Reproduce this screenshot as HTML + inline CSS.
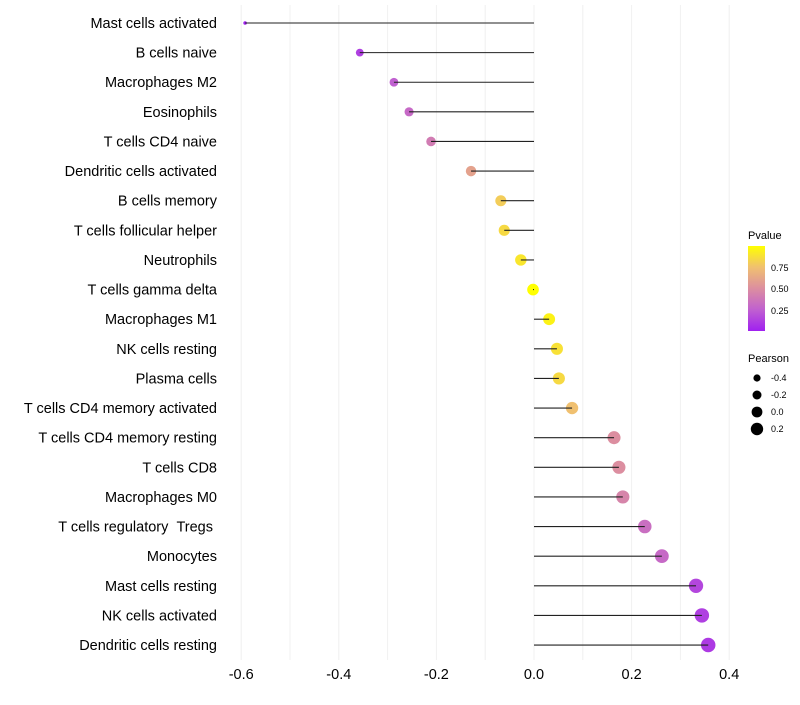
<!DOCTYPE html>
<html><head><style>
body{margin:0;background:#fff;font-family:"Liberation Sans",sans-serif}
</style></head><body>
<svg id="chart" width="800" height="700" xmlns="http://www.w3.org/2000/svg" font-family="Liberation Sans, sans-serif">
<g id="grid"></g>
<g id="marks"></g>
<g id="ylab"></g>
<g id="xlab"></g>
<g>
<defs><linearGradient id="pg" x1="0" y1="1" x2="0" y2="0">
<stop offset="0" stop-color="#a020f0"/><stop offset="0.25" stop-color="#c060d0"/><stop offset="0.5" stop-color="#dc8ea0"/><stop offset="0.75" stop-color="#f0c070"/><stop offset="1" stop-color="#ffff00"/></linearGradient></defs>
<text x="748" y="239" font-size="11">Pvalue</text>
<rect x="748" y="246" width="17" height="85" fill="url(#pg)"/>
<text x="771" y="271" font-size="9">0.75</text>
<text x="771" y="292" font-size="9">0.50</text>
<text x="771" y="314" font-size="9">0.25</text>
<text x="748" y="362" font-size="11">Pearson</text>
<circle cx="757" cy="378" r="3.6"/>
<circle cx="757" cy="395" r="4.5"/>
<circle cx="757" cy="412" r="5.4"/>
<circle cx="757" cy="429" r="6.2"/>
<text x="771" y="381" font-size="9">-0.4</text>
<text x="771" y="398" font-size="9">-0.2</text>
<text x="771" y="415" font-size="9">0.0</text>
<text x="771" y="432" font-size="9">0.2</text>
</g>
</svg>
<script>
const categories=["Mast cells activated","B cells naive","Macrophages M2","Eosinophils","T cells CD4 naive","Dendritic cells activated","B cells memory","T cells follicular helper","Neutrophils","T cells gamma delta","Macrophages M1","NK cells resting","Plasma cells","T cells CD4 memory activated","T cells CD4 memory resting","T cells CD8","Macrophages M0","T cells regulatory\u00a0\u00a0Tregs\u00a0","Monocytes","Mast cells resting","NK cells activated","Dendritic cells resting"];
const pearson=[-0.592,-0.357,-0.287,-0.256,-0.211,-0.129,-0.068,-0.061,-0.027,-0.002,0.031,0.047,0.051,0.078,0.164,0.174,0.182,0.227,0.262,0.332,0.344,0.357];
const pvalues=[0.0,0.12,0.25,0.3,0.4,0.6,0.8,0.85,0.9,1.0,0.95,0.88,0.85,0.75,0.5,0.5,0.45,0.33,0.3,0.15,0.12,0.1];
const xTicks=[-0.6,-0.4,-0.2,0.0,0.2,0.4];
const NS="http://www.w3.org/2000/svg";
const x=v=>534+v*488;
const y=i=>23+i*29.62;
const rad=v=>Math.sqrt(Math.max(1,34+52*v));
const stops=[[0,[160,32,240]],[0.25,[192,96,208]],[0.5,[220,142,160]],[0.75,[240,192,112]],[1,[255,255,0]]];
function col(p){for(let k=1;k<stops.length;k++){if(p<=stops[k][0]){const a=stops[k-1],b=stops[k],t=(p-a[0])/(b[0]-a[0]);return"rgb("+a[1].map((c,j)=>Math.round(c+(b[1][j]-c)*t)).join(",")+")";}}return"rgb(255,255,0)";}
function mk(t,at,parent){const e=document.createElementNS(NS,t);for(const k in at)e.setAttribute(k,at[k]);document.getElementById(parent).appendChild(e);return e;}
for(let v=-0.6;v<=0.45;v+=0.1){const g=mk("line",{x1:x(v),x2:x(v),y1:5,y2:660,stroke:"#f0f0f0","stroke-width":1},"grid");

}
xTicks.forEach(t=>{const e=mk("text",{x:x(t),y:679,"font-size":14.5,"text-anchor":"middle",fill:"#000"},"xlab");e.textContent=t.toFixed(1);

});
categories.forEach((c,i)=>{
const d=mk("circle",{cx:x(pearson[i]),cy:y(i),r:rad(pearson[i]),fill:col(pvalues[i])},"marks");


const l=mk("line",{x1:x(0),x2:x(pearson[i]),y1:y(i),y2:y(i),stroke:"#222","stroke-width":1.1},"marks");


const t=mk("text",{x:217,y:y(i)+5,"font-size":14.5,"text-anchor":"end",fill:"#000"},"ylab");t.textContent=c;


});
</script>
</body></html>
